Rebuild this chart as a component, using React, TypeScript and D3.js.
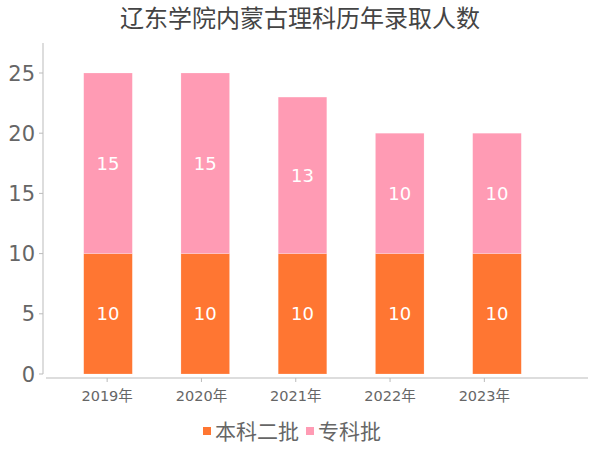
import React from "react";
import * as d3 from "d3";

const categories = ["2019年", "2020年", "2021年", "2022年", "2023年"];
const seriesNames = ["本科二批", "专科批"];
const benke = [10, 10, 10, 10, 10];
const zhuanke = [15, 15, 13, 10, 10];
const yTicks = [0, 5, 10, 15, 20, 25];
const colors = ["#FF7632", "#FF9BB4"];
const font = "'DejaVu Sans', 'Noto Sans CJK SC', sans-serif";
const cjk = "'Noto Sans CJK SC', sans-serif";

export default function App() {
  const W = 600, H = 450;
  const y = d3.scaleLinear().domain([0, 25]).range([374, 73]);
  const xBars = d3.scaleBand().domain(categories).range([59.4, 545.6]).paddingInner(0.5).paddingOuter(0.25);
  const xTicks = d3.scaleBand().domain(categories).range([60, 531.5]).padding(0);
  const data = categories.map((c, i) => ({ c, a: benke[i], b: zhuanke[i] }));
  const stacked = d3.stack<any>().keys(["a", "b"])(data);
  const bw = xBars.bandwidth();
  return (
    <svg width={W} height={H} style={{ position: "absolute", left: 0, top: 0 }}>
      <rect width={W} height={H} fill="#fff" />
      <text x={300} y={27} textAnchor="middle" fontSize={24} fill="#444" fontFamily={cjk}>
        辽东学院内蒙古理科历年录取人数
      </text>
      <line x1={43} x2={43} y1={43} y2={374} stroke="#bbb" />
      {yTicks.map((t) => (
        <g key={t}>
          <line x1={39} x2={43} y1={y(t)} y2={y(t)} stroke="#bbb" />
          <text x={35} y={y(t)} dy="0.36em" textAnchor="end" fontSize={21} fill="#666" fontFamily={font}>
            {t}
          </text>
        </g>
      ))}
      <line x1={46} x2={588} y1={378} y2={378} stroke="#bbb" />
      {categories.map((c) => {
        const cx = xTicks(c)! + xTicks.bandwidth() / 2;
        return (
          <g key={c}>
            <line x1={cx} x2={cx} y1={378} y2={382} stroke="#bbb" />
            <text x={cx} y={401} textAnchor="middle" fontSize={14.5} fill="#666" fontFamily={font}>
              {c}
            </text>
          </g>
        );
      })}
      {stacked.map((s, si) => (
        <g key={si}>
          {s.map((d: any, i: number) => {
            const x0 = xBars(categories[i])!;
            const yTop = y(d[1]);
            const yBot = y(d[0]);
            return (
              <g key={i}>
                <rect x={x0} y={yTop} width={bw} height={yBot - yTop} fill={colors[si]} stroke="#fff" strokeOpacity={0.4} strokeWidth={0.5} />
                <text x={x0 + bw / 2} y={(yTop + yBot) / 2} dy="0.36em" textAnchor="middle" fontSize={18} fill="#fff" fontFamily={font}>
                  {d[1] - d[0]}
                </text>
              </g>
            );
          })}
        </g>
      ))}
      <g>
        <rect x={203} y={427} width={8} height={8} fill={colors[0]} />
        <text x={215} y={431} dy="0.36em" fontSize={21} fill="#666" fontFamily={cjk}>{seriesNames[0]}</text>
        <rect x={306} y={427} width={8} height={8} fill={colors[1]} />
        <text x={318} y={431} dy="0.36em" fontSize={21} fill="#666" fontFamily={cjk}>{seriesNames[1]}</text>
      </g>
    </svg>
  );
}
